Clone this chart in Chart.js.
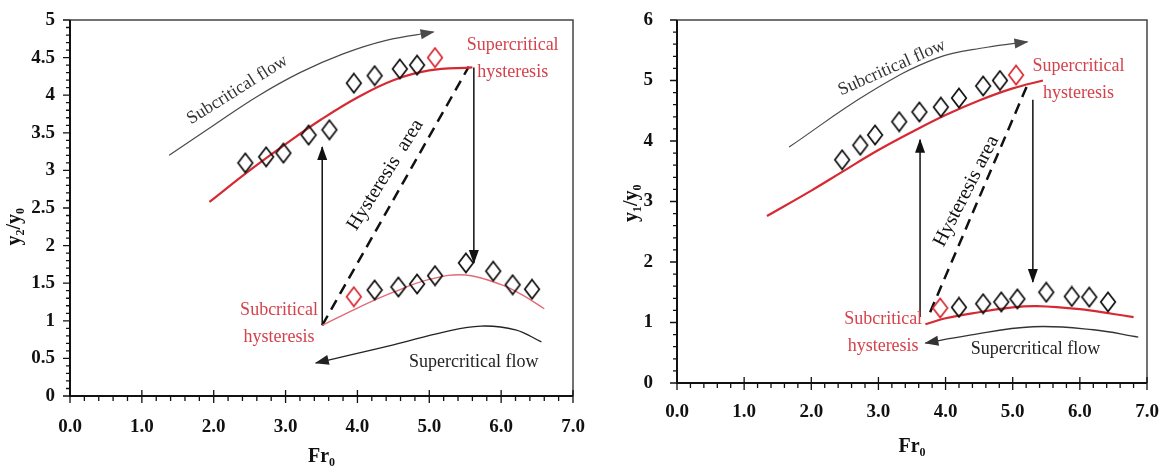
<!DOCTYPE html>
<html>
<head>
<meta charset="utf-8">
<script src="https://cdn.jsdelivr.net/npm/chart.js@4.4.1/dist/chart.umd.min.js"></script>
<style>
html, body { margin: 0; padding: 0; background: #fff; }
#wrap { position: relative; width: 1162px; height: 474px; }
#left { position: absolute; left: 0; top: 0; }
#right { position: absolute; left: 580px; top: 0; }
</style>
</head>
<body>
<div id="wrap">
  <canvas id="left" width="600" height="474"></canvas>
  <canvas id="right" width="582" height="474"></canvas>
</div>
<script>
// Tick labels
const xTicks = ['0.0', '1.0', '2.0', '3.0', '4.0', '5.0', '6.0', '7.0'];
const y2Ticks = ['0', '0.5', '1', '1.5', '2', '2.5', '3', '3.5', '4', '4.5', '5'];
const y1Ticks = ['0', '1', '2', '3', '4', '5', '6'];

// Left panel: y2/y0 against Fr0
const fr0Up2 = [2.44, 2.73, 2.97, 3.32, 3.61, 3.95, 4.24, 4.59, 4.83, 5.08];
const y2Up = [3.10, 3.18, 3.23, 3.47, 3.54, 4.16, 4.26, 4.35, 4.40, 4.50];
const fr0Low2 = [3.95, 4.24, 4.57, 4.83, 5.08, 5.51, 5.89, 6.16, 6.43];
const y2Low = [1.32, 1.41, 1.45, 1.49, 1.60, 1.77, 1.66, 1.48, 1.42];
const fitUpX2 = [1.94, 2.5, 3.0, 3.5, 4.0, 4.5, 5.0, 5.6];
const fitUpY2 = [2.58, 3.0, 3.35, 3.68, 3.97, 4.2, 4.33, 4.37];
const fitLowX2 = [3.51, 4.0, 4.5, 5.0, 5.5, 6.0, 6.3, 6.6];
const fitLowY2 = [0.94, 1.17, 1.38, 1.55, 1.61, 1.48, 1.34, 1.16];
const subFlowX2 = [1.38, 2.0, 2.6, 3.2, 3.8, 4.4, 5.06];
const subFlowY2 = [3.2, 3.6, 3.98, 4.3, 4.55, 4.73, 4.84];
const supFlowX2 = [6.56, 6.2, 5.72, 5.2, 4.5, 3.42];
const supFlowY2 = [0.72, 0.88, 0.93, 0.85, 0.68, 0.44];
const jumpUpX2 = [3.51, 3.51], jumpUpY2 = [0.94, 3.31];
const jumpDownX2 = [5.62, 5.62], jumpDownY2 = [4.37, 1.77];
const hystX2 = [3.51, 5.55], hystY2 = [0.94, 4.38];

// Right panel: y1/y0 against Fr0
const fr0Up1 = [2.46, 2.73, 2.95, 3.31, 3.61, 3.93, 4.2, 4.56, 4.81, 5.05];
const y1Up = [3.69, 3.93, 4.10, 4.32, 4.48, 4.56, 4.71, 4.91, 5.0, 5.09];
const fr0Low1 = [3.92, 4.2, 4.56, 4.83, 5.07, 5.5, 5.88, 6.14, 6.42];
const y1Low = [1.24, 1.25, 1.31, 1.34, 1.39, 1.50, 1.43, 1.42, 1.34];
const fitUpX1 = [1.34, 2.0, 2.46, 3.0, 3.5, 4.0, 4.5, 5.0, 5.45];
const fitUpY1 = [2.76, 3.18, 3.49, 3.85, 4.15, 4.43, 4.67, 4.87, 5.0];
const fitLowX1 = [3.7, 4.0, 4.5, 5.0, 5.36, 6.0, 6.5, 6.8];
const fitLowY1 = [0.97, 1.07, 1.17, 1.25, 1.27, 1.22, 1.14, 1.09];
const subFlowX1 = [1.67, 2.88, 3.87, 4.62, 5.22];
const subFlowY1 = [3.9, 4.81, 5.37, 5.55, 5.64];
const supFlowX1 = [6.87, 6.2, 5.3, 4.3, 3.7];
const supFlowY1 = [0.76, 0.88, 0.93, 0.78, 0.66];
const jumpUpX1 = [3.62, 3.62], jumpUpY1 = [1.09, 4.02];
const jumpDownX1 = [5.3, 5.3], jumpDownY1 = [4.68, 1.67];
const hystX1 = [3.77, 5.22], hystY1 = [1.17, 4.93];

const RED = '#d62a33';
const RED_TXT = '#d4424c';
const PINK = '#e36b75';
const INK = '#111';
const GREY = '#4a4a4a';
const SERIF = '"Liberation Serif", "Times New Roman", serif';

function pts(xs, ys) {
    return xs.map((x, i) => ({x: x, y: ys[i]}));
}

// tall open diamond marker, like the Excel one
function diamondImg(color) {
    const c = document.createElement('canvas');
    c.width = 18;
    c.height = 22;
    const g = c.getContext('2d');
    g.strokeStyle = color;
    g.lineWidth = 1.7;
    g.beginPath();
    g.moveTo(9, 1.5);
    g.lineTo(16.3, 11);
    g.lineTo(9, 20.5);
    g.lineTo(1.7, 11);
    g.closePath();
    g.stroke();
    return c;
}
const blackDiamond = diamondImg(INK);
const redDiamond = diamondImg(RED);

function diamonds(xs, ys, redIndex) {
    return {
        data: pts(xs, ys),
        showLine: false,
        pointRadius: 9,
        pointHoverRadius: 9,
        pointStyle: c => c.dataIndex === redIndex ? redDiamond : blackDiamond
    };
}

function curve(xs, ys, color, width, extra) {
    return Object.assign({
        data: pts(xs, ys),
        borderColor: color,
        borderWidth: width,
        pointRadius: 0,
        pointHoverRadius: 0,
        tension: 0.4,
        fill: false
    }, extra || {});
}

// frame, minor ticks, arrow heads and the text notes
const decor = {
    id: 'decor',
    afterDatasetsDraw(chart, args, o) {
        const ctx = chart.ctx;
        const sx = chart.scales.x, sy = chart.scales.y;
        ctx.save();
        chart.data.datasets.forEach((ds, i) => {
            if (!ds.arrow) return;
            const els = chart.getDatasetMeta(i).data;
            const p = els[els.length - 1], q = els[els.length - 2];
            const ang = Math.atan2(p.y - q.y, p.x - q.x);
            ctx.save();
            ctx.translate(p.x, p.y);
            ctx.rotate(ang);
            ctx.fillStyle = ds.borderColor;
            ctx.beginPath();
            ctx.moveTo(1, 0);
            ctx.lineTo(-13, -5);
            ctx.lineTo(-13, 5);
            ctx.closePath();
            ctx.fill();
            ctx.restore();
        });
        (o.texts || []).forEach(t => {
            ctx.save();
            ctx.translate(sx.getPixelForValue(t.x), sy.getPixelForValue(t.y));
            ctx.rotate((t.rot || 0) * Math.PI / 180);
            ctx.font = (t.size || 18) + 'px ' + SERIF;
            ctx.fillStyle = t.color || INK;
            ctx.textAlign = 'center';
            ctx.textBaseline = 'middle';
            const lines = t.text.split('\n');
            lines.forEach((s, k) => ctx.fillText(s, 0, (k - (lines.length - 1) / 2) * 27));
            ctx.restore();
        });
        ctx.restore();
    },
    afterDraw(chart, args, o) {
        const ctx = chart.ctx, a = chart.chartArea;
        const sx = chart.scales.x, sy = chart.scales.y;
        ctx.save();
        ctx.strokeStyle = '#444';
        ctx.lineWidth = 1.5;
        ctx.beginPath();
        ctx.moveTo(a.left, a.top);
        ctx.lineTo(a.right, a.top);
        ctx.lineTo(a.right, a.bottom);
        ctx.stroke();
        ctx.strokeStyle = INK;
        ctx.lineWidth = 2;
        ctx.beginPath();
        ctx.moveTo(a.left, a.top);
        ctx.lineTo(a.left, a.bottom);
        ctx.lineTo(a.right, a.bottom);
        ctx.stroke();
        ctx.lineWidth = 1.3;
        ctx.beginPath();
        const nx = Math.round(sx.max / o.xMinor);
        for (let k = 0; k <= nx; k++) {
            const v = k * o.xMinor, px = sx.getPixelForValue(v);
            const major = Math.abs(v - Math.round(v)) < 1e-6;
            ctx.moveTo(px, a.bottom - (major ? 6 : 0));
            ctx.lineTo(px, a.bottom + (major ? 7 : 5));
        }
        const ny = Math.round(sy.max / o.yMinor);
        for (let k = 0; k <= ny; k++) {
            const v = k * o.yMinor, py = sy.getPixelForValue(v);
            const r = v / o.yMajor;
            const major = Math.abs(r - Math.round(r)) < 1e-6;
            ctx.moveTo(a.left - (major ? 7 : 4), py);
            ctx.lineTo(a.left, py);
        }
        ctx.stroke();
        // axis title on y, drawn here so it can sit where the original has it
        ctx.font = 'bold 20px ' + SERIF;
        ctx.fillStyle = INK;
        ctx.textAlign = 'center';
        ctx.textBaseline = 'middle';
        ctx.translate(o.yTitleX, sy.getPixelForValue(o.yTitleAt));
        ctx.rotate(-Math.PI / 2);
        ctx.fillText(o.yTitle, 0, 0);
        ctx.restore();
    }
};

function makeChart(id, o) {
    return new Chart(document.getElementById(id), {
        type: 'line',
        data: {datasets: o.datasets},
        options: {
            responsive: false,
            animation: false,
            devicePixelRatio: 1,
            layout: {padding: {top: 20, right: o.padRight, left: 0, bottom: 0}},
            plugins: {
                legend: {display: false},
                tooltip: {enabled: false},
                decor: {
                    texts: o.texts, xMinor: 0.2, yMinor: o.yMinor, yMajor: o.yStep,
                    yTitle: o.yTitle, yTitleX: o.yTitleX, yTitleAt: o.yTitleAt
                }
            },
            scales: {
                x: {
                    type: 'linear', min: 0, max: 7,
                    afterFit: s => { s.height = o.xH; s.paddingLeft = 0; s.paddingRight = 0; },
                    grid: {display: false, drawTicks: false},
                    border: {display: false},
                    ticks: {
                        stepSize: 1, padding: o.xPad, color: INK, maxRotation: 0, autoSkip: false,
                        font: {family: SERIF, size: 19, weight: 'bold'},
                        callback: (v, i) => xTicks[i]
                    },
                    title: {
                        display: true, text: 'Fr₀', color: INK,
                        font: {family: SERIF, size: 20, weight: 'bold'},
                        padding: {top: 0, bottom: o.xTitlePad}
                    }
                },
                y: {
                    min: 0, max: o.yMax,
                    afterFit: s => { s.width = o.yW; s.paddingTop = 0; s.paddingBottom = 0; },
                    grid: {display: false, drawTicks: false},
                    border: {display: false},
                    ticks: {
                        stepSize: o.yStep, padding: o.yPad, color: INK, autoSkip: false,
                        font: {family: SERIF, size: 19, weight: 'bold'},
                        callback: (v, i) => o.yTicks[i]
                    }
                }
            }
        },
        plugins: [decor]
    });
}

makeChart('left', {
    yMax: 5, yStep: 0.5, yMinor: 0.1, yTicks: y2Ticks,
    yW: 70, xH: 78, padRight: 27, xPad: 20, yPad: 15, xTitlePad: 5,
    yTitle: 'y₂/y₀', yTitleX: 15, yTitleAt: 2.25,
    datasets: [
        diamonds(fr0Up2, y2Up, fr0Up2.length - 1),
        diamonds(fr0Low2, y2Low, 0),
        curve(fitUpX2, fitUpY2, RED, 2.2),
        curve(fitLowX2, fitLowY2, PINK, 1.4),
        curve(subFlowX2, subFlowY2, GREY, 1.2, {arrow: true}),
        curve(supFlowX2, supFlowY2, '#222', 1.3, {arrow: true}),
        curve(jumpUpX2, jumpUpY2, INK, 1.5, {arrow: true, tension: 0}),
        curve(jumpDownX2, jumpDownY2, INK, 1.5, {arrow: true, tension: 0}),
        curve(hystX2, hystY2, INK, 2.5, {tension: 0, borderDash: [11, 7]})
    ],
    texts: [
        {text: 'Subcritical flow', x: 2.33, y: 4.07, rot: -32, color: '#333'},
        {text: 'Supercritical\nhysteresis', x: 6.16, y: 4.49, color: RED_TXT},
        {text: 'Hysteresis  area', x: 4.39, y: 2.94, rot: -58, size: 20},
        {text: 'Subcritical\nhysteresis', x: 2.91, y: 0.96, color: RED_TXT},
        {text: 'Supercritical flow', x: 5.62, y: 0.45, color: '#222'}
    ]
});

makeChart('right', {
    yMax: 6, yStep: 1, yMinor: 0.2, yTicks: y1Ticks,
    yW: 97, xH: 91, padRight: 15, xPad: 18, yPad: 24, xTitlePad: 15,
    yTitle: 'y₁/y₀', yTitleX: 52, yTitleAt: 2.97,
    datasets: [
        diamonds(fr0Up1, y1Up, fr0Up1.length - 1),
        diamonds(fr0Low1, y1Low, 0),
        curve(fitUpX1, fitUpY1, RED, 2.2),
        curve(fitLowX1, fitLowY1, RED, 2.2),
        curve(subFlowX1, subFlowY1, GREY, 1.2, {arrow: true}),
        curve(supFlowX1, supFlowY1, '#333', 1.3, {arrow: true}),
        curve(jumpUpX1, jumpUpY1, INK, 1.5, {arrow: true, tension: 0}),
        curve(jumpDownX1, jumpDownY1, INK, 1.5, {arrow: true, tension: 0}),
        curve(hystX1, hystY1, INK, 2.5, {tension: 0, borderDash: [11, 7]})
    ],
    texts: [
        {text: 'Subcritical flow', x: 3.2, y: 5.21, rot: -24, color: '#333'},
        {text: 'Supercritical\nhysteresis', x: 5.98, y: 5.01, color: RED_TXT},
        {text: 'Hysteresis area', x: 4.31, y: 3.17, rot: -63, size: 20},
        {text: 'Subcritical\nhysteresis', x: 3.07, y: 0.83, color: RED_TXT},
        {text: 'Supercritical flow', x: 5.34, y: 0.56, color: '#222'}
    ]
});
</script>
</body>
</html>
